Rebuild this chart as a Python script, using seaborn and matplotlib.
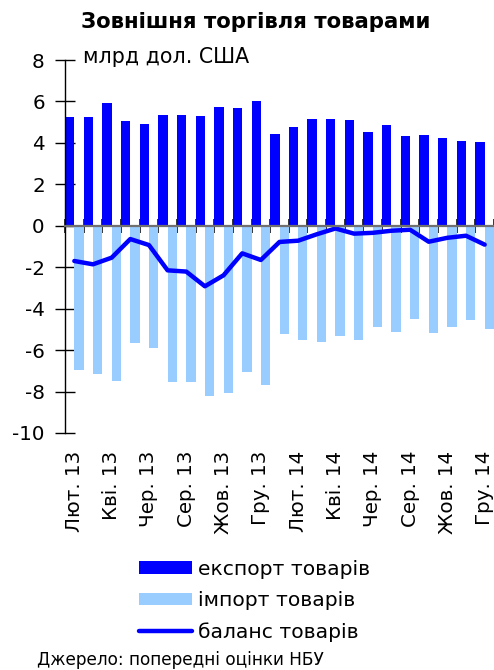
import numpy as np
import pandas as pd
import matplotlib
matplotlib.use("Agg")
import matplotlib.pyplot as plt
import seaborn as sns
from matplotlib.patches import Patch
from matplotlib.lines import Line2D

months = ["Лют. 13", "Бер. 13", "Кві. 13", "Тра. 13", "Чер. 13", "Лип. 13",
          "Сер. 13", "Вер. 13", "Жов. 13", "Лис. 13", "Гру. 13", "Січ. 14",
          "Лют. 14", "Бер. 14", "Кві. 14", "Тра. 14", "Чер. 14", "Лип. 14",
          "Сер. 14", "Вер. 14", "Жов. 14", "Лис. 14", "Гру. 14"]
export_vals = [5.25, 5.26, 5.92, 5.04, 4.93, 5.34, 5.33, 5.30, 5.71, 5.70, 6.02, 4.43,
               4.78, 5.17, 5.17, 5.09, 4.52, 4.86, 4.32, 4.38, 4.25, 4.08, 4.03]
import_vals = [-6.94, -7.13, -7.47, -5.67, -5.90, -7.53, -7.56, -8.22, -8.08, -7.05, -7.66, -5.22,
               -5.53, -5.61, -5.32, -5.50, -4.90, -5.11, -4.50, -5.19, -4.89, -4.57, -4.97]
balance_vals = [-1.70, -1.86, -1.54, -0.64, -0.93, -2.15, -2.21, -2.92, -2.39, -1.33, -1.65, -0.78,
                -0.72, -0.41, -0.13, -0.38, -0.34, -0.24, -0.19, -0.77, -0.58, -0.48, -0.91]
series_names = ["експорт товарів", "імпорт товарів", "баланс товарів"]
y_ticks = [8, 6, 4, 2, 0, -2, -4, -6, -8, -10]

title = "Зовнішня торгівля товарами"
unit_label = "млрд дол. США"
source = "Джерело: попередні оцінки НБУ"

c_export = "#0000FF"
c_import = "#99CCFF"
c_balance = "#0000FF"

sns.set_theme(style="white")
plt.rcParams["font.family"] = ["DejaVu Sans"]
plt.rcParams["axes.unicode_minus"] = False
for k in ["text.color", "xtick.color", "ytick.color", "axes.labelcolor"]:
    plt.rcParams[k] = "black"

df = pd.DataFrame({
    "month": months * 2,
    "series": [series_names[0]] * len(months) + [series_names[1]] * len(months),
    "value": export_vals + import_vals,
})

W, H = 494, 670
fig = plt.figure(figsize=(W / 100, H / 100), dpi=100)
ax = fig.add_axes([65 / W, 1 - 433 / H, (494 - 65) / W, (433 - 60) / H])

sns.barplot(data=df, x="month", y="value", hue="series", order=months,
            hue_order=series_names[:2], palette=[c_export, c_import],
            width=1.0, gap=0, dodge=True, saturation=1, errorbar=None,
            legend=False, ax=ax, linewidth=0)
sns.lineplot(x=np.arange(len(months)), y=balance_vals, color=c_balance, lw=3.2,
             ax=ax, solid_capstyle="round", solid_joinstyle="round")

ax.set_xlim(-0.5, len(months) - 0.5)
ax.set_ylim(min(y_ticks), max(y_ticks))
ax.set_yticks(y_ticks)
ax.set_xlabel("")
ax.set_ylabel("")

# zero line with boundary ticks; month labels at the bottom via minor ticks
ax.spines["bottom"].set_position(("data", 0))
ax.spines["bottom"].set_color("#707070")
ax.spines["bottom"].set_linewidth(1.6)
ax.spines["bottom"].set_zorder(5)
ax.set_xticks(np.arange(-0.5, len(months), 1))
ax.set_xticklabels([])
ax.set_xticks(np.arange(0, len(months), 2), minor=True)
ax.set_xticklabels(months[::2], minor=True, rotation=90, fontsize=14.3)
ax.tick_params(axis="x", which="major", direction="inout", length=10, width=1.1,
               color="black", bottom=True)
ax.tick_params(axis="x", which="minor", length=0, pad=162, bottom=True)
ax.tick_params(axis="y", direction="inout", length=15, width=1, color="black",
               labelsize=14.3, pad=7, left=True)
for s in ["top", "right"]:
    ax.spines[s].set_visible(False)
ax.spines["left"].set_color("black")
ax.spines["left"].set_linewidth(1)

fig.text(83 / W, 1 - 57 / H, unit_label, fontsize=14.8, va="center", ha="left")
fig.text(256 / W, 1 - 22 / H, title, fontsize=15.3, fontweight="bold",
         ha="center", va="center")

handles = [Patch(facecolor=c_export, edgecolor="none"),
           Patch(facecolor=c_import, edgecolor="none"),
           Line2D([0], [0], color=c_balance, lw=3.2, solid_capstyle="round")]
fig.legend(handles, series_names, loc="upper left",
           bbox_to_anchor=(139 / W, 1 - 560 / H), frameon=False, fontsize=14.6,
           handlelength=2.6, handleheight=0.6, handletextpad=0.3,
           labelspacing=0.6, borderpad=0, borderaxespad=0)

fig.text(37 / W, 1 - 660 / H, source, fontsize=12.2, va="center", ha="left")

fig.savefig("out.png", dpi=100)
